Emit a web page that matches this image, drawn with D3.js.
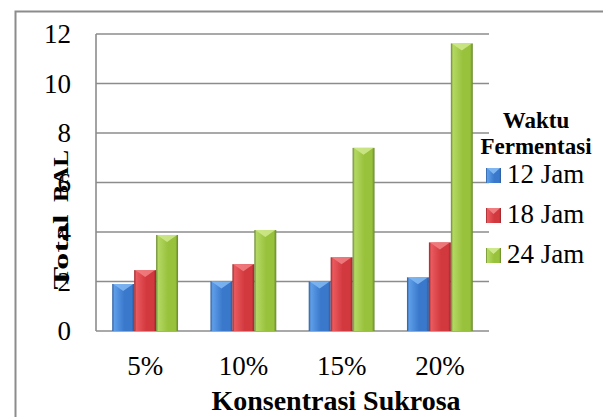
<!DOCTYPE html>
<html>
<head>
  <title>Total BAL</title>
  <script src="https://d3js.org/d3.v7.min.js"></script>
  <style>
    body { margin: 0; background: #fff; }
    text { font-family: "Liberation Serif", "Times New Roman", serif; fill: #000; }
    .tick-label { font-size: 27px; }
    .cat-label { font-size: 27px; text-anchor: middle; }
    .axis-title { font-size: 28px; font-weight: bold; }
    .legend-title { font-size: 23px; font-weight: bold; text-anchor: middle; }
    .legend-item { font-size: 27px; }
  </style>
</head>
<body>
  <div id="chart"></div>
  <script>
    const categories = ["5%", "10%", "15%", "20%"];
    const seriesNames = ["12 Jam", "18 Jam", "24 Jam"];
    const jam12 = [1.9, 2.0, 2.0, 2.17];
    const jam18 = [2.46, 2.7, 2.98, 3.58];
    const jam24 = [3.88, 4.08, 7.4, 11.62];
    const yTicks = [0, 2, 4, 6, 8, 10, 12];
    const seriesValues = [jam12, jam18, jam24];

    const palette = [
      { dark: "#2a5a9c", light: "#5e9ee8", mid: "#3a78cc", top: "#7fb6f2" },
      { dark: "#9a2428", light: "#ea5a5e", mid: "#d2393f", top: "#f07d80" },
      { dark: "#66862a", light: "#b4d862", mid: "#98c13c", top: "#cde88a" }
    ];

    const width = 603, height = 417;
    const plot = { left: 96, right: 489, top: 34, bottom: 331 };

    const svg = d3.select("#chart").append("svg")
      .attr("width", width)
      .attr("height", height);

    const defs = svg.append("defs");
    palette.forEach((c, i) => {
      const g = defs.append("linearGradient")
        .attr("id", "grad" + i)
        .attr("x1", "0%").attr("x2", "100%").attr("y1", "0%").attr("y2", "0%");
      g.append("stop").attr("offset", "0%").attr("stop-color", c.dark);
      g.append("stop").attr("offset", "10%").attr("stop-color", c.light);
      g.append("stop").attr("offset", "55%").attr("stop-color", c.mid);
      g.append("stop").attr("offset", "88%").attr("stop-color", c.mid);
      g.append("stop").attr("offset", "100%").attr("stop-color", c.dark);
    });

    // outer chart border
    svg.append("path")
      .attr("d", `M15.5,${height} V11.5 H${width}`)
      .attr("fill", "none")
      .attr("stroke", "#8c8c8c")
      .attr("stroke-width", 2);

    const y = d3.scaleLinear().domain([0, 12]).range([plot.bottom, plot.top]);
    const x0 = d3.scaleBand().domain(categories).range([plot.left, plot.right]).paddingInner(0.33).paddingOuter(0.165);
    const x1 = d3.scaleBand().domain(seriesNames).range([0, x0.bandwidth()]);

    // gridlines
    svg.append("g")
      .selectAll("line")
      .data(yTicks.filter(d => d > 0))
      .join("line")
        .attr("x1", plot.left).attr("x2", plot.right)
        .attr("y1", d => y(d)).attr("y2", d => y(d))
        .attr("stroke", "#8c8c8c")
        .attr("stroke-width", 1.6);

    // axes lines
    svg.append("line")
      .attr("x1", plot.left).attr("x2", plot.left)
      .attr("y1", plot.top).attr("y2", plot.bottom)
      .attr("stroke", "#8c8c8c").attr("stroke-width", 1.6);
    svg.append("line")
      .attr("x1", plot.left).attr("x2", plot.right)
      .attr("y1", y(0)).attr("y2", y(0))
      .attr("stroke", "#8c8c8c").attr("stroke-width", 1.6);

    // y tick labels
    svg.append("g")
      .selectAll("text")
      .data(yTicks)
      .join("text")
        .attr("class", "tick-label")
        .attr("x", 71)
        .attr("y", d => y(d))
        .attr("dy", "0.34em")
        .attr("text-anchor", "end")
        .text(d => d);

    // bars
    const groups = svg.append("g")
      .selectAll("g")
      .data(categories)
      .join("g")
        .attr("transform", d => `translate(${x0(d)},0)`);

    groups.each(function(cat, ci) {
      const g = d3.select(this);
      seriesNames.forEach((s, si) => {
        const v = seriesValues[si][ci];
        const bx = x1(s), bw = x1.bandwidth();
        g.append("rect")
          .attr("x", bx)
          .attr("y", y(v))
          .attr("width", bw)
          .attr("height", y(0) - y(v))
          .attr("fill", `url(#grad${si})`);
        g.append("path")
          .attr("d", `M${bx + 1},${y(v)} L${bx + bw - 1},${y(v)} L${bx + bw / 2},${y(v) + 7} Z`)
          .attr("fill", palette[si].top)
          .attr("opacity", 0.9);
      });
    });

    // category labels
    svg.append("g")
      .selectAll("text")
      .data(categories)
      .join("text")
        .attr("class", "cat-label")
        .attr("x", d => x0(d) + x0.bandwidth() / 2)
        .attr("y", 375)
        .text(d => d);

    // axis titles
    svg.append("text")
      .attr("class", "axis-title")
      .attr("x", 336)
      .attr("y", 410)
      .attr("text-anchor", "middle")
      .text("Konsentrasi Sukrosa");

    // y title drawn as two words, with the wide gap seen in the original
    [["Total", 252, 75], ["BAL", 176, 52]].forEach(([word, cy, len]) => {
      svg.append("text")
        .attr("class", "axis-title")
        .attr("transform", `translate(68,${cy}) rotate(-90)`)
        .attr("text-anchor", "middle")
        .style("font-size", "20px")
        .attr("textLength", len)
        .attr("lengthAdjust", "spacingAndGlyphs")
        .text(word);
    });

    // legend
    const legend = svg.append("g");
    legend.append("text").attr("class", "legend-title").attr("x", 536).attr("y", 128).text("Waktu");
    legend.append("text").attr("class", "legend-title").attr("x", 536).attr("y", 154).text("Fermentasi");

    const items = legend.selectAll("g.item")
      .data(seriesNames)
      .join("g")
        .attr("class", "item")
        .attr("transform", (d, i) => `translate(486,${183 + i * 40})`);
    items.append("rect")
      .attr("x", 0).attr("y", -15)
      .attr("width", 15).attr("height", 15)
      .attr("fill", (d, i) => `url(#grad${i})`);
    items.append("path")
      .attr("d", "M1,-15 L14,-15 L7.5,-9 Z")
      .attr("fill", (d, i) => palette[i].top);
    items.append("text")
      .attr("class", "legend-item")
      .attr("x", 21)
      .attr("y", 0)
      .text(d => d);
  </script>
</body>
</html>
